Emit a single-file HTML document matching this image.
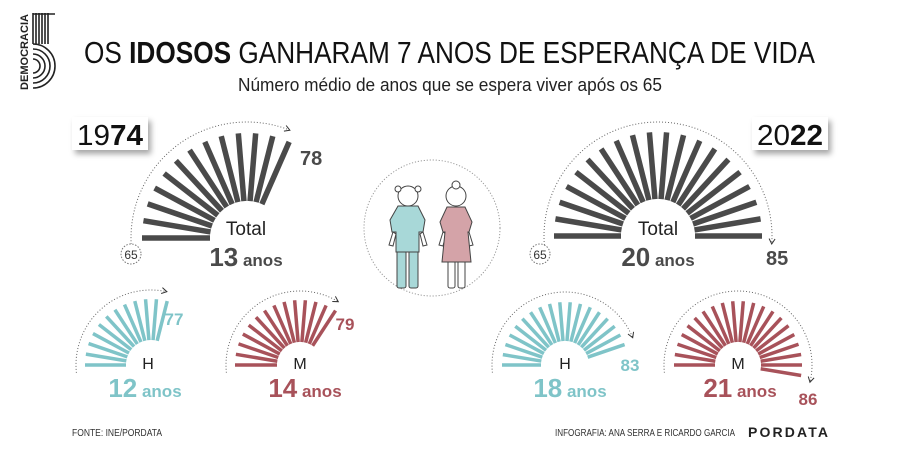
<!DOCTYPE html>
<html><head><meta charset="utf-8"><style>
html,body{margin:0;padding:0;background:#fff;}
svg{display:block;font-family:"Liberation Sans",sans-serif;}
</style></head><body>
<svg id="s" width="900" height="472" viewBox="0 0 900 472" xmlns="http://www.w3.org/2000/svg">
<defs>
<filter id="sh" x="-20%" y="-20%" width="150%" height="160%"><feDropShadow dx="3" dy="4" stdDeviation="3" flood-color="#000" flood-opacity="0.35"/></filter>
</defs>
<!-- logo -->
<g>
<text transform="translate(28,90) rotate(-90)" font-size="11" font-weight="bold" fill="#222" textLength="76" lengthAdjust="spacingAndGlyphs">DEMOCRACIA</text>
<g stroke="#222" stroke-width="1.6" fill="none">
<line x1="33" y1="13" x2="33" y2="44"/><line x1="36" y1="13" x2="36" y2="44"/><line x1="39" y1="13" x2="39" y2="44"/><line x1="42" y1="13" x2="42" y2="44"/><line x1="45" y1="13" x2="45" y2="44"/><line x1="48" y1="13" x2="48" y2="44"/>
<line x1="33" y1="14" x2="55" y2="14"/>
<path d="M33 44 A22 22 0 1 1 33 88"/>
<path d="M33 49 A17 17 0 1 1 33 83"/>
<path d="M33 54 A12 12 0 1 1 33 78"/>
<path d="M33 59 A7 7 0 1 1 33 73"/>
</g>
</g>
<text x="84" y="63" font-size="31" fill="#111" textLength="731" lengthAdjust="spacingAndGlyphs">OS <tspan font-weight="bold">IDOSOS</tspan> GANHARAM 7 ANOS DE ESPERANÇA DE VIDA</text>
<text x="238" y="91" font-size="18" fill="#222" textLength="424" lengthAdjust="spacingAndGlyphs">Número médio de anos que se espera viver após os 65</text>

<!-- year boxes -->
<rect x="72" y="117" width="76" height="33" fill="#fff" filter="url(#sh)"/>
<text x="110" y="145" font-size="29" text-anchor="middle" fill="#111" textLength="66" lengthAdjust="spacingAndGlyphs">19<tspan font-weight="bold">74</tspan></text>
<rect x="752" y="117" width="76" height="33" fill="#fff" filter="url(#sh)"/>
<text x="790" y="145" font-size="29" text-anchor="middle" fill="#111" textLength="66" lengthAdjust="spacingAndGlyphs">20<tspan font-weight="bold">22</tspan></text>

<g id="fans"></g>

<!-- labels -->
<g font-weight="bold" fill="#4a4a4a">
<text x="300" y="165" font-size="20">78</text>
<text x="766" y="265" font-size="20">85</text>
</g>
<g fill="#222" text-anchor="middle">
<text x="246" y="235" font-size="19">Total</text>
<text x="658" y="235" font-size="19">Total</text>
<text x="148" y="369" font-size="16">H</text>
<text x="300" y="369" font-size="16">M</text>
<text x="565" y="369" font-size="16">H</text>
<text x="738" y="369" font-size="16">M</text>
</g>
<g font-weight="bold" text-anchor="middle">
<text x="246" y="266" fill="#4a4a4a"><tspan font-size="26">13</tspan><tspan font-size="17"> anos</tspan></text>
<text x="658" y="266" fill="#4a4a4a"><tspan font-size="26">20</tspan><tspan font-size="17"> anos</tspan></text>
<text x="145" y="397" fill="#7fc4c8"><tspan font-size="26">12</tspan><tspan font-size="17"> anos</tspan></text>
<text x="305" y="397" fill="#a8525a"><tspan font-size="26">14</tspan><tspan font-size="17"> anos</tspan></text>
<text x="570" y="397" fill="#7fc4c8"><tspan font-size="26">18</tspan><tspan font-size="17"> anos</tspan></text>
<text x="740" y="397" fill="#a8525a"><tspan font-size="26">21</tspan><tspan font-size="17"> anos</tspan></text>
<text x="174" y="325" font-size="17" fill="#7fc4c8">77</text>
<text x="345" y="330" font-size="17" fill="#a8525a">79</text>
<text x="630" y="371" font-size="17" fill="#7fc4c8">83</text>
<text x="808" y="405" font-size="17" fill="#a8525a">86</text>
</g>
<!-- 65 circles -->
<circle cx="131" cy="254" r="10" fill="#fff" stroke="#777" stroke-width="1" stroke-dasharray="1.5 1.5"/>
<text x="131" y="259" font-size="12" text-anchor="middle" fill="#333">65</text>
<circle cx="540" cy="254" r="10" fill="#fff" stroke="#777" stroke-width="1" stroke-dasharray="1.5 1.5"/>
<text x="540" y="259" font-size="12" text-anchor="middle" fill="#333">65</text>

<!-- center figures -->
<circle cx="432" cy="228" r="68" fill="none" stroke="#999" stroke-width="1" stroke-dasharray="1.2 1.8"/>
<g stroke="#444" stroke-width="1" fill="#fff">
<circle cx="408" cy="196" r="10"/>
<circle cx="398" cy="189" r="3"/><circle cx="418" cy="189" r="3"/>
<rect x="397" y="248" width="9" height="40" rx="2" fill="#a8d8d8"/>
<rect x="409" y="248" width="9" height="40" rx="2" fill="#a8d8d8"/>
<path d="M393 232 L389 245 L393 246 L396 234Z"/>
<path d="M423 232 L427 245 L423 246 L420 234Z"/>
<path d="M398 206 L418 206 L425 220 L423 232 L419 232 L419 252 L396 252 L396 232 L392 232 L390 220Z" fill="#a8d8d8"/>
<circle cx="456" cy="196" r="10"/>
<circle cx="456" cy="185" r="4"/>
<rect x="448" y="248" width="7" height="40" rx="2"/>
<rect x="458" y="248" width="7" height="40" rx="2"/>
<path d="M443 232 L439 245 L443 246 L446 234Z"/>
<path d="M469 232 L473 245 L469 246 L466 234Z"/>
<path d="M447 207 L465 207 L472 222 L469 232 L468 232 L471 262 L442 262 L445 232 L443 232 L440 222Z" fill="#d4a3a8"/>
</g>

<!-- footer -->
<text x="72" y="436" font-size="10.5" fill="#333" textLength="90" lengthAdjust="spacingAndGlyphs">FONTE: INE/PORDATA</text>
<text x="555" y="436" font-size="10.5" fill="#333" textLength="180" lengthAdjust="spacingAndGlyphs">INFOGRAFIA: ANA SERRA E RICARDO GARCIA</text>
<text x="748" y="437" font-size="14" font-weight="bold" fill="#222" textLength="80" lengthAdjust="spacing">PORDATA</text>
</svg>
<script>
(function(){
var g=document.getElementById('fans'),NS='http://www.w3.org/2000/svg';
var step=180/19;
function el(n,a){var e=document.createElementNS(NS,n);for(var k in a)e.setAttribute(k,a[k]);g.appendChild(e);return e;}
function fan(cx,cy,ri,ro,n,col,w,arcR,arrowDown){
  for(var i=0;i<n;i++){var a=(180-i*step)*Math.PI/180,c=Math.cos(a),s=Math.sin(a);
    el('line',{x1:cx+ri*c,y1:cy-ri*s,x2:cx+ro*c,y2:cy-ro*s,stroke:col,'stroke-width':w});}
  var a0=186*Math.PI/180,last=180-(n-1)*step,a1=(last-(arrowDown?4:-2))*Math.PI/180;
  if(arrowDown){a1=(last+ (n>19? -4:3))*Math.PI/180;}
  var x0=cx+arcR*Math.cos(a0),y0=cy-arcR*Math.sin(a0),x1=cx+arcR*Math.cos(a1),y1=cy-arcR*Math.sin(a1);
  var large=(a0-a1)>Math.PI?1:0;
  el('path',{d:'M'+x0+' '+y0+' A'+arcR+' '+arcR+' 0 '+large+' 1 '+x1+' '+y1,fill:'none',stroke:'#666','stroke-width':1,'stroke-dasharray':'1 2'});
  var tx=Math.sin(a1),ty=Math.cos(a1),L=6;
  function rot(x,y,d){var r=d*Math.PI/180;return [x*Math.cos(r)-y*Math.sin(r),x*Math.sin(r)+y*Math.cos(r)];}
  var p1=rot(-tx,-ty,30),p2=rot(-tx,-ty,-30);
  el('path',{d:'M'+(x1+p1[0]*L)+' '+(y1+p1[1]*L)+' L'+x1+' '+y1+' L'+(x1+p2[0]*L)+' '+(y1+p2[1]*L),fill:'none',stroke:'#333','stroke-width':1});
}
fan(247,238,37,105,13,'#4a4a4a',5.5,116,false);
fan(658,236,37,104,20,'#4a4a4a',5.5,114,true);
fan(151,365,25,66,12,'#7fc4c8',3.5,75,false);
fan(300,365,23,65,14,'#a8525a',3.5,74,false);
fan(565,365,24,63,18,'#7fc4c8',3.5,73,true);
fan(738,365,23,64,21,'#a8525a',3.5,74,true);
})();
</script>
</body></html>
